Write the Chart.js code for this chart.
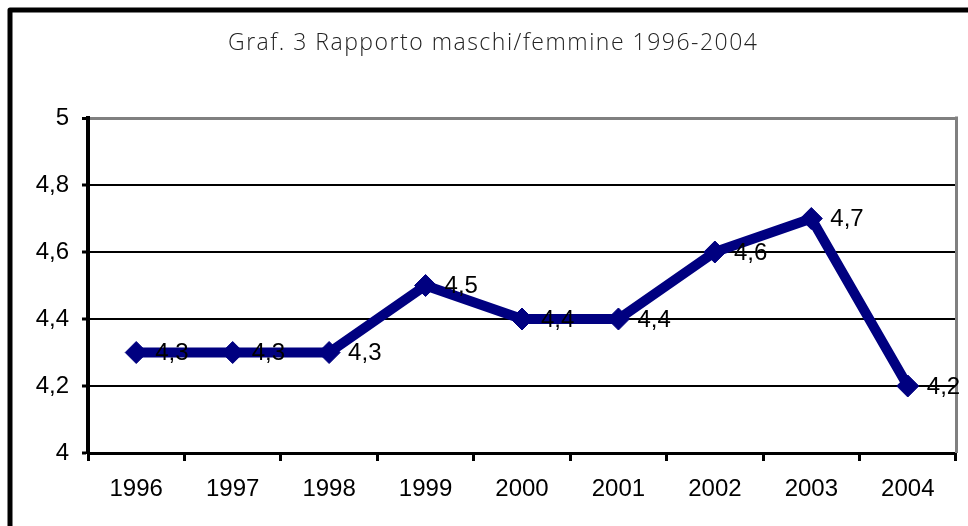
<!DOCTYPE html>
<html>
<head>
<meta charset="utf-8">
<script src="https://cdn.jsdelivr.net/npm/chart.js@4"></script>
<style>
  html, body { margin: 0; padding: 0; background: #fff; }
  #wrap { width: 968px; height: 526px; }
</style>
</head>
<body>
<div id="wrap"><canvas id="grafico" width="968" height="526"></canvas></div>
<script>
// dati
const anni = ["1996", "1997", "1998", "1999", "2000", "2001", "2002", "2003", "2004"];
const rapporto = [4.3, 4.3, 4.3, 4.5, 4.4, 4.4, 4.6, 4.7, 4.2];
const titolo = "Graf. 3 Rapporto maschi/femmine 1996-2004";

const virgola = v => String(Math.round(v * 10) / 10).replace(".", ",");

// cornice esterna, titolo, bordo grigio, etichette dei valori
const decorazioni = {
  id: "decorazioni",
  beforeDraw(chart) {
    const ctx = chart.ctx;
    ctx.save();
    ctx.fillStyle = "#fff";
    ctx.fillRect(0, 0, chart.width, chart.height);
    ctx.strokeStyle = "#000";
    ctx.lineWidth = 5;
    ctx.lineJoin = "round";
    ctx.strokeRect(10, 10, 1000, 600);

    ctx.font = "300 23px 'Open Sans'";
    ctx.fillStyle = "#222";
    ctx.textBaseline = "middle";
    ctx.textAlign = "left";
    const w = ctx.measureText(titolo).width;
    const spazio = (529 - w) / (titolo.length - 1);
    ctx.letterSpacing = spazio + "px";
    ctx.fillText(titolo, 228, 43);
    ctx.restore();
  },
  beforeDatasetsDraw(chart) {
    const { ctx, chartArea } = chart;
    ctx.save();
    ctx.strokeStyle = "#808080";
    ctx.lineWidth = 3;
    ctx.beginPath();
    ctx.moveTo(chartArea.right + 0.5, chartArea.top - 1.5);
    ctx.lineTo(chartArea.right + 0.5, chartArea.bottom);
    ctx.stroke();
    ctx.restore();
  },
  afterDatasetsDraw(chart) {
    const ctx = chart.ctx;
    const meta = chart.getDatasetMeta(0);
    ctx.save();
    ctx.font = "24px 'Liberation Sans', Arial";
    ctx.fillStyle = "#000";
    ctx.textAlign = "left";
    ctx.textBaseline = "middle";
    meta.data.forEach((p, i) => {
      ctx.fillText(virgola(rapporto[i]), p.x + 19, p.y + 1);
    });
    ctx.restore();
  }
};

new Chart(document.getElementById("grafico"), {
  type: "line",
  data: {
    labels: anni,
    datasets: [{
      data: rapporto,
      borderColor: "#000080",
      backgroundColor: "#000080",
      borderWidth: 10,
      pointStyle: "rectRot",
      pointRadius: 11,
      pointBorderWidth: 1,
      pointBackgroundColor: "#000080",
      pointBorderColor: "#000080",
      tension: 0
    }]
  },
  options: {
    responsive: false,
    animation: false,
    layout: { padding: { top: 118, right: 10, bottom: 0, left: 0 } },
    plugins: {
      legend: { display: false },
      title: { display: false },
      tooltip: { enabled: false }
    },
    scales: {
      x: {
        offset: true,
        grid: {
          offset: true,
          drawOnChartArea: false,
          tickLength: 8,
          tickWidth: 3,
          tickColor: "#000"
        },
        border: { color: "#000", width: 3 },
        ticks: {
          color: "#000",
          font: { family: "'Liberation Sans', Arial", size: 24 },
          padding: 14,
          maxRotation: 0
        },
        afterFit(scale) { scale.height = 73; }
      },
      y: {
        min: 4,
        max: 5,
        grid: {
          color: ctx => ctx.tick && ctx.tick.value === 5 ? "#808080" : "#000",
          lineWidth: ctx => ctx.tick && ctx.tick.value === 5 ? 3 : 2,
          tickLength: 6,
          tickWidth: 3,
          tickColor: "#000"
        },
        border: { color: "#000", width: 4 },
        ticks: {
          stepSize: 0.2,
          color: "#000",
          font: { family: "'Liberation Sans', Arial", size: 24 },
          padding: 13,
          callback: v => virgola(v)
        },
        afterFit(scale) { scale.width = 88; }
      }
    }
  },
  plugins: [decorazioni]
});
</script>
</body>
</html>
